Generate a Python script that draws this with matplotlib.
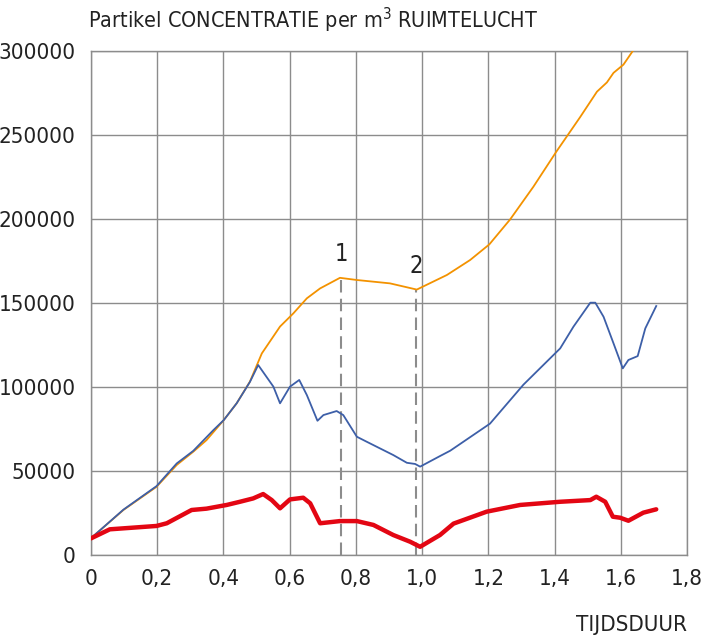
import numpy as np
import matplotlib.pyplot as plt

plt.rcParams['font.family'] = ['DejaVu Sans']
plt.rcParams['font.stretch'] = 'condensed'

# orange: total concentration
orange_x = [0.0, 0.098, 0.198, 0.259, 0.309, 0.349, 0.401, 0.44, 0.48, 0.516, 0.571,
            0.611, 0.652, 0.692, 0.752, 0.803, 0.903, 0.984, 1.075, 1.145, 1.203,
            1.266, 1.336, 1.405, 1.477, 1.528, 1.558, 1.578, 1.608, 1.65]
orange_y = [10000, 26800, 40600, 53600, 61500, 68400, 80300, 90300, 103200, 120000, 136000,
            143800, 152800, 158700, 165000, 163700, 161700, 158000, 166700, 175600, 184900,
            199800, 219200, 240000, 260600, 275800, 281300, 287000, 291900, 304000]

# blue
blue_x = [0.0, 0.098, 0.198, 0.259, 0.309, 0.37, 0.401, 0.44, 0.48, 0.505, 0.551, 0.571,
          0.601, 0.629, 0.652, 0.684, 0.702, 0.742, 0.762, 0.803, 0.833, 0.913, 0.954,
          0.979, 0.994, 1.054, 1.085, 1.205, 1.306, 1.417, 1.457, 1.508, 1.523, 1.548,
          1.578, 1.606, 1.623, 1.651, 1.674, 1.707]
blue_y = [10000, 27000, 41000, 54500, 62000, 74400, 80300, 90300, 103000, 113100, 100200, 90300,
          100200, 104200, 95200, 79900, 83300, 85700, 83300, 70400, 67400, 59500, 54900,
          54200, 52600, 58900, 62100, 78200, 101400, 123000, 135900, 150200, 150200, 141800,
          126000, 111100, 116100, 118400, 134900, 148200]

# red
red_x = [0.0, 0.057, 0.198, 0.229, 0.304, 0.349, 0.41, 0.45, 0.49, 0.52, 0.546, 0.571,
         0.601, 0.641, 0.662, 0.692, 0.752, 0.803, 0.853, 0.913, 0.964, 0.994,
         1.054, 1.095, 1.195, 1.296, 1.417, 1.508, 1.526, 1.553, 1.576, 1.598, 1.623,
         1.668, 1.707]
red_y = [9900, 15300, 17300, 18900, 26800, 27600, 29800, 31700, 33700, 36300, 32700, 27800,
         33100, 34100, 30800, 18900, 20200, 20200, 17900, 11900, 7900, 4900,
         11900, 18700, 25800, 29800, 31700, 32700, 34700, 31700, 22800, 22200, 20400,
         25200, 27200]

markers_x = [0.755, 0.981]
markers_y = [165000, 158000]
marker_labels = ['1', '2']

xticks = [0, 0.2, 0.4, 0.6, 0.8, 1.0, 1.2, 1.4, 1.6, 1.8]
xtick_labels = ['0', '0,2', '0,4', '0,6', '0,8', '1,0', '1,2', '1,4', '1,6', '1,8']
yticks = [0, 50000, 100000, 150000, 200000, 250000, 300000]

fig = plt.figure(figsize=(7.05, 6.37), dpi=100)
ax = fig.add_axes([0.129, 0.1287, 0.8455, 0.7912])

ax.plot(orange_x, orange_y, color='#f39200', lw=1.3, zorder=3)
ax.plot(blue_x, blue_y, color='#3d5fa8', lw=1.3, zorder=3)
ax.plot(red_x, red_y, color='#e30613', lw=3.2, zorder=4, solid_capstyle='round',
        solid_joinstyle='round')

for mx, my, lab in zip(markers_x, markers_y, marker_labels):
    ax.plot([mx, mx], [0, my], color='#8c8c8c', lw=1.5, ls=(0, (6, 3)), zorder=2)
    ax.text(mx, my + 7000, lab, fontsize=17, ha='center', va='bottom', color='#222222')

ax.set_xlim(0, 1.8)
ax.set_ylim(0, 300000)
ax.set_xticks(xticks)
ax.set_xticklabels(xtick_labels)
ax.set_yticks(yticks)
ax.set_yticklabels([str(v) for v in yticks])
ax.tick_params(length=0, labelsize=16, colors='#222222')
ax.tick_params(axis='y', pad=11)
ax.tick_params(axis='x', pad=10)
ax.grid(True, color='#8c8c8c', lw=1)
ax.set_axisbelow(True)
for s in ax.spines.values():
    s.set_color('#8c8c8c')
    s.set_linewidth(1)

fig.text(88 / 705, 1 - 20 / 637, 'Partikel CONCENTRATIE per m$^3$ RUIMTELUCHT',
         fontsize=15.5, ha='left', va='center', color='#222222')
fig.text(687 / 705, 1 - 625 / 637, 'TIJDSDUUR', fontsize=16, ha='right', va='center',
         color='#222222')

fig.savefig('out.png', dpi=100)
